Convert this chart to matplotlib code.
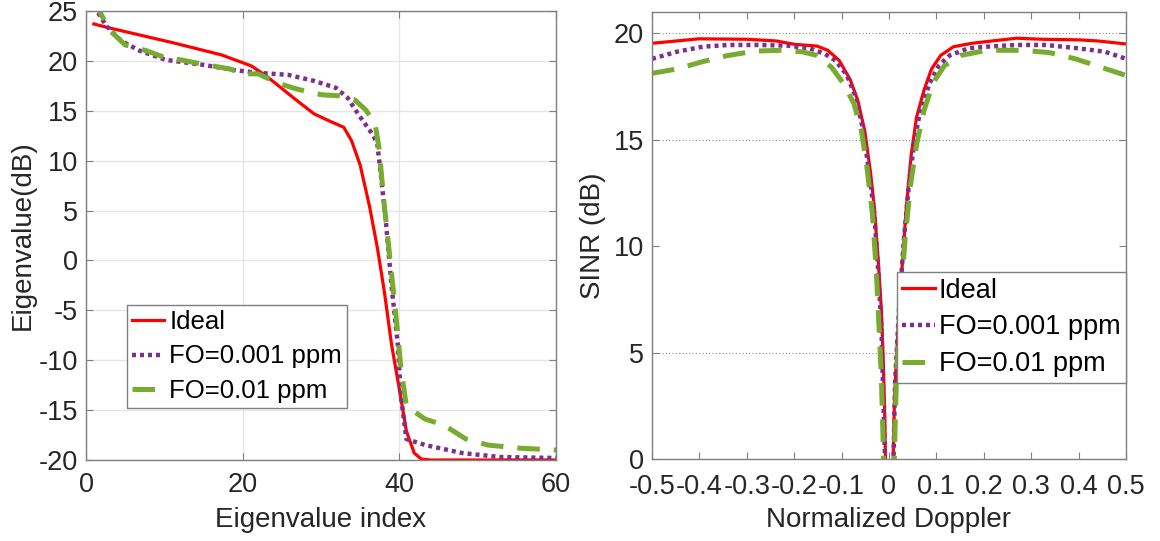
import matplotlib

matplotlib.use("Agg")
import matplotlib.pyplot as plt

plt.rcParams["font.family"] = ["Liberation Sans", "DejaVu Sans"]
plt.rcParams["axes.unicode_minus"] = False

# left panel: eigenvalue spectrum
eig_ideal_x = [1, 3, 11.2, 17.3, 21.1, 23, 24.9, 26.8, 29.1, 31, 32.9, 33.9, 35, 36.2,
               37.2, 38.1, 39, 40, 40.9, 41.9, 42.8, 44, 60]
eig_ideal_y = [23.7, 23.3, 21.8, 20.6, 19.5, 18.5, 17.3, 16.1, 14.7, 14.0, 13.35, 12.0, 9.55,
               5.4, 1.25, -3.2, -8.4, -12.9, -17.1, -19.3, -19.9, -20.0, -20.0]
eig_fo1_x = [1, 2.6, 4.5, 6.9, 10.2, 15, 19.2, 22, 25.8, 29.1, 31.9, 33.4, 34.8, 36.7, 37.2,
             37.6, 38.3, 39, 39.8, 40.2, 40.9, 43.3, 48, 52.8, 60]
eig_fo1_y = [25.5, 23.5, 22.0, 21.0, 20.1, 19.6, 19.05, 18.8, 18.6, 18.0, 17.3, 16.3, 14.6,
             12.5, 11.6, 8.9, 3.7, -2.5, -8.4, -13.6, -17.9, -18.5, -19.3, -19.7, -19.8]
eig_fo2_x = [1, 1.7, 3.1, 5, 7.8, 10.2, 12.1, 15.4, 18.3, 20.1, 22, 24.4, 26.8, 30.1, 32.4,
             34.3, 35.7, 36.9, 37.4, 38.1, 38.8, 39.5, 40.2, 40.9, 43.3, 45.7, 48.5, 51.3,
             55.1, 60]
eig_fo2_y = [27.0, 25.0, 23.0, 21.6, 21.0, 20.3, 20.1, 19.6, 19.2, 18.7, 18.7, 17.8, 17.2,
             16.6, 16.5, 16.1, 15.1, 13.7, 11.3, 5.4, 0.2, -5.0, -10.8, -14.6, -15.9, -16.5,
             -17.9, -18.5, -18.8, -19.0]

# right panel: SINR vs normalized Doppler
dop_ideal_x = [-0.5, -0.401, -0.3, -0.238, -0.199, -0.152, -0.129, -0.105, -0.082, -0.066,
               -0.051, -0.039, -0.031, -0.023, -0.016, -0.012, -0.009, -0.007,
               0.0078, 0.0117, 0.019, 0.0288, 0.0366, 0.0467, 0.058, 0.074, 0.0896, 0.109,
               0.136, 0.175, 0.206, 0.269, 0.323, 0.401, 0.44, 0.5]
dop_ideal_y = [19.53, 19.74, 19.72, 19.64, 19.48, 19.4, 19.2, 18.72, 17.83, 16.86, 15.4,
               13.46, 11.84, 9.41, 6.98, 4.55, 2.12, -1.0,
               -1.0, 2.93, 6.17, 9.41, 11.84, 14.27, 16.05, 17.34, 18.32, 18.96, 19.37,
               19.53, 19.61, 19.77, 19.72, 19.69, 19.64, 19.5]
dop_fo1_x = [-0.5, -0.448, -0.393, -0.339, -0.276, -0.214, -0.167, -0.136, -0.113, -0.09,
             -0.07, -0.054, -0.043, -0.031, -0.023, -0.016, -0.012, -0.009, -0.008,
             0.009, 0.01, 0.013, 0.021, 0.031, 0.043, 0.055, 0.066, 0.086, 0.105, 0.128,
             0.167, 0.206, 0.269, 0.331, 0.401, 0.456, 0.5]
dop_fo1_y = [18.8, 19.13, 19.37, 19.45, 19.45, 19.42, 19.29, 19.04, 18.72, 18.07, 17.02,
             15.4, 13.62, 11.51, 8.92, 6.17, 2.93, 0.5, -1.0,
             -1.0, 0.5, 3.74, 6.98, 10.22, 13.14, 15.08, 16.38, 17.67, 18.48, 18.96,
             19.29, 19.37, 19.45, 19.45, 19.29, 19.13, 18.8]
dop_fo2_x = [-0.5, -0.448, -0.393, -0.339, -0.284, -0.23, -0.183, -0.152, -0.121, -0.097,
             -0.074, -0.058, -0.047, -0.035, -0.027, -0.021, -0.016, -0.012, -0.011,
             0.0107, 0.0117, 0.0156, 0.0234, 0.0335, 0.045, 0.058, 0.074, 0.093, 0.117,
             0.152, 0.206, 0.284, 0.339, 0.393, 0.448, 0.5]
dop_fo2_y = [18.12, 18.32, 18.67, 18.96, 19.16, 19.2, 19.13, 18.96, 18.4, 17.67, 16.7,
             15.4, 13.78, 11.51, 8.92, 6.17, 3.74, 0.5, -1.0,
             -1.0, 0.5, 3.74, 6.98, 10.22, 12.81, 14.76, 16.38, 17.67, 18.48, 18.96,
             19.2, 19.2, 19.09, 18.8, 18.4, 18.02]

labels = ["Ideal", "FO=0.001 ppm", "FO=0.01 ppm"]
c_red = "#ff0000"
c_purple = "#7e2f8e"
c_green = "#77ac30"
axis_gray = "#7f7f7f"
text_col = "#262626"


def style_axes(ax, xpad=9):
    for sp in ax.spines.values():
        sp.set_color(axis_gray)
        sp.set_linewidth(1.0)
    ax.tick_params(direction="in", top=True, right=True, length=5, width=0.8,
                   color=axis_gray, labelsize=19.5, labelcolor=text_col, pad=6)
    ax.tick_params(axis="x", pad=xpad)


fig = plt.figure(figsize=(11.6, 5.41), dpi=100)

ax1 = fig.add_axes([86 / 1160, 81 / 541, 470 / 1160, 449 / 541])
ax1.plot(eig_ideal_x, eig_ideal_y, color=c_red, lw=2.3, label=labels[0])
ax1.plot(eig_fo1_x, eig_fo1_y, color=c_purple, lw=3.2, ls=(0, (0.9, 0.9)), label=labels[1])
ax1.plot(eig_fo2_x, eig_fo2_y, color=c_green, lw=3.6, ls=(0, (4.5, 2.8)), label=labels[2])
ax1.set_xlim(0, 60)
ax1.set_ylim(-20, 25)
ax1.set_xticks([0, 20, 40, 60])
ax1.set_yticks(range(-20, 26, 5))
ax1.grid(True, color="#e6e6e6", lw=1.0)
ax1.set_axisbelow(True)
style_axes(ax1)
ax1.set_xlabel("Eigenvalue index", fontsize=20, color=text_col, labelpad=6)
ax1.set_ylabel("Eigenvalue(dB)", fontsize=20, color=text_col, labelpad=2)
leg1 = ax1.legend(loc="lower left", bbox_to_anchor=(0.087, 0.116), fontsize=18.5,
                  frameon=True, fancybox=False, framealpha=1, edgecolor=axis_gray,
                  borderpad=0.2, labelspacing=0.4, handlelength=1.25,
                  handletextpad=0.2, borderaxespad=0)
leg1.get_frame().set_linewidth(1.0)
for t in leg1.get_texts():
    t.set_color("black")

ax2 = fig.add_axes([652 / 1160, 82 / 541, 474 / 1160, 447 / 541])
ax2.plot(dop_ideal_x, dop_ideal_y, color=c_red, lw=2.3, label=labels[0])
ax2.plot(dop_fo1_x, dop_fo1_y, color=c_purple, lw=3.2, ls=(0, (0.9, 0.9)), label=labels[1])
ax2.plot(dop_fo2_x, dop_fo2_y, color=c_green, lw=3.6, ls=(0, (4.5, 2.8)), label=labels[2])
ax2.set_xlim(-0.5, 0.5)
ax2.set_ylim(0, 21)
xt = [-0.5, -0.4, -0.3, -0.2, -0.1, 0, 0.1, 0.2, 0.3, 0.4, 0.5]
ax2.set_xticks(xt)
ax2.set_xticklabels(["0" if v == 0 else f"{v:g}" for v in xt])
ax2.set_yticks([0, 5, 10, 15, 20])
ax2.grid(True, axis="y", color="#8c8c8c", lw=0.8, ls=(0, (1, 2)))
ax2.yaxis.get_gridlines()[2].set_visible(False)
style_axes(ax2, xpad=10.5)
ax2.set_xlabel("Normalized Doppler", fontsize=20, color=text_col, labelpad=5)
ax2.set_ylabel("SINR (dB)", fontsize=20, color=text_col, labelpad=5)
leg2 = ax2.legend(loc="upper right", bbox_to_anchor=(1.0, 0.418), fontsize=19.5,
                  frameon=True, fancybox=False, framealpha=1, edgecolor=axis_gray,
                  borderpad=0.2, labelspacing=0.4, handlelength=1.2,
                  handletextpad=0.15, borderaxespad=0)
leg2.get_frame().set_linewidth(1.0)
for t in leg2.get_texts():
    t.set_color("black")

fig.savefig("out.png", dpi=100)
